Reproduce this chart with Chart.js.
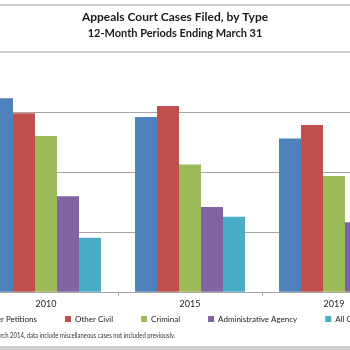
<!DOCTYPE html>
<html>
<head>
<meta charset="utf-8">
<script src="https://cdn.jsdelivr.net/npm/chart.js@4/dist/chart.umd.min.js"></script>
<style>
  html, body { margin: 0; padding: 0; width: 350px; height: 350px; overflow: hidden; background: #fff; }
  #wrap { position: relative; width: 350px; height: 350px; overflow: hidden; }
  #c { position: absolute; left: -56px; top: 0; }
  .rule { position: absolute; left: 0; width: 350px; background: #d0d0d0; }
  #note { position: absolute; right: 175px; top: 330px; white-space: nowrap; font: 7px Lato, sans-serif; color: #333; text-align: right; line-height: 10px; transform: scaleX(0.85); transform-origin: right center; }
</style>
</head>
<body>
<div id="wrap">
  <canvas id="c" width="462" height="357"></canvas>
  <div class="rule" style="top:4px;height:2px"></div>
  <div class="rule" style="top:51px;height:2px"></div>
  <div class="rule" style="top:346px;height:4px"></div>
  <div id="note">Note: Beginning in March 2014, data include miscellaneous cases not included previously.</div>
</div>
<script>
const categories = ['2010', '2015', '2019'];
const seriesNames = ['Prisoner Petitions', 'Other Civil', 'Criminal', 'Administrative Agency', 'All Other'];
const prisonerPetitions = [1616, 1461, 1281];
const otherCivil = [1492, 1551, 1394];
const criminal = [1301, 1064, 969];
const administrativeAgency = [800, 709, 583];
const allOther = [454, 628, 500];
const colors = ['#4F81BD', '#C0504D', '#9BBB59', '#8064A2', '#4BACC6'];

const seriesValues = [prisonerPetitions, otherCivil, criminal, administrativeAgency, allOther];

const legendShift = {
  id: 'legendShift',
  afterLayout(chart) {
    const lg = chart.legend;
    if (lg) { lg.top -= 24; lg.bottom -= 24; lg.left -= 9; lg.right -= 9; }
  }
};

new Chart(document.getElementById('c'), {
  type: 'bar',
  data: {
    labels: categories,
    datasets: seriesValues.map((vals, i) => ({
      label: seriesNames[i],
      data: vals,
      backgroundColor: colors[i],
      borderWidth: 0,
      categoryPercentage: 0.764,
      barPercentage: 1.0
    }))
  },
  options: {
    responsive: false,
    animation: false,
    devicePixelRatio: 1,
    layout: { padding: 0 },
    plugins: {
      title: {
        display: true,
        text: 'Appeals Court Cases Filed, by Type',
        color: '#1a1a1a',
        font: { family: 'Lato', size: 12, weight: 'bold' },
        padding: { top: 10, bottom: 0 }
      },
      subtitle: {
        display: true,
        text: '12-Month Periods Ending March 31',
        color: '#1a1a1a',
        font: { family: 'Lato', size: 11, weight: 'bold' },
        padding: { top: 2, bottom: 12.6 }
      },
      legend: {
        position: 'bottom',
        labels: {
          boxWidth: 6,
          boxHeight: 6,
          padding: 28,
          color: '#1a1a1a',
          font: { family: 'Lato', size: 8 }
        }
      },
      tooltip: { enabled: false }
    },
    scales: {
      x: {
        grid: { drawOnChartArea: false, drawTicks: true, tickLength: 4, color: '#a6a6a6', offset: true },
        border: { display: true, color: '#a6a6a6', width: 1 },
        ticks: { color: '#1a1a1a', padding: 2, font: { family: 'Lato', size: 9 } }
      },
      y: {
        min: 0,
        max: 2000,
        ticks: { stepSize: 500, color: '#222', font: { family: 'Lato', size: 9 } },
        grid: { color: '#a6a6a6', lineWidth: 1, drawTicks: false },
        border: { display: false },
        afterFit(scale) { scale.width = 30; }
      }
    }
  },
  plugins: [legendShift]
});
</script>
</body>
</html>
